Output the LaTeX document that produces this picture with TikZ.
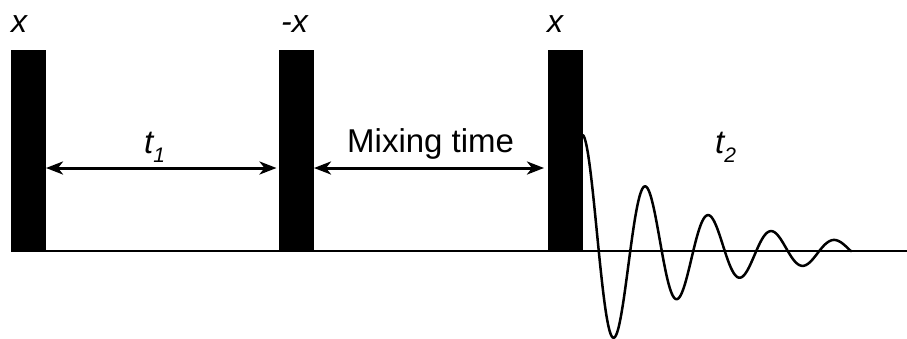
\documentclass[tikz,border=0pt]{standalone}
\usepackage{fontspec}
\setmainfont{Liberation Sans}
\usetikzlibrary{arrows.meta}
\begin{document}
\begin{tikzpicture}[x=1pt,y=-1pt,
  pulse/.style={fill=black, draw=none, minimum width=35pt, minimum height=202pt, inner sep=0pt, outer sep=0pt},
  lbl/.style={inner sep=0pt, anchor=base west, font=\fontsize{32}{32}\selectfont\itshape},
  tlbl/.style={inner sep=0pt, anchor=base west, font=\fontsize{33}{33}\selectfont\itshape},
  mix/.style={inner sep=0pt, anchor=base west, font=\fontsize{33}{33}\selectfont},
  tip/.tip={Stealth[length=17pt,width=13pt,inset=5pt]},
  dim/.style={line width=3pt, tip-tip},
  axis/.style={line width=2pt},
  wave/.style={line width=2.5pt, line join=round, line cap=round}
]
\useasboundingbox (0,0) rectangle (907,338);
% baseline
\coordinate (end) at (907,251);
\draw[axis] (11,251) -- (end);
% pulses
\node[pulse] (p1) at (28.5,151) {};
\node[pulse] (p2) at (296.5,151) {};
\node[pulse] (p3) at (565.5,151) {};
% pulse labels
\node[lbl] (l1) at (11,32) {x};
\node[lbl] (l2) at (281,32) {-x};
\node[lbl] (l3) at (547,32) {x};
% delay arrows
\draw[dim] ([yshift=-17pt]p1.east) -- ([yshift=-17pt,xshift=-2.5pt]p2.west);
\draw[dim] ([yshift=-17pt]p2.east) -- ([yshift=-17pt,xshift=-4pt]p3.west);
% delay labels
\node[tlbl] (t1) at (144,153) {t\raisebox{-9pt}{\fontsize{21}{21}\selectfont 1}};
\node[mix] (mt) at (347,152) {Mixing time};
\node[tlbl] (t2) at (715,153) {t\raisebox{-9pt}{\fontsize{21}{21}\selectfont 2}};
% FID
\draw[wave] plot[domain=0:268, samples=300] ({583+\x},{251-116*exp(-\x/107)*cos(\x*5.714)});
\end{tikzpicture}
\end{document}
